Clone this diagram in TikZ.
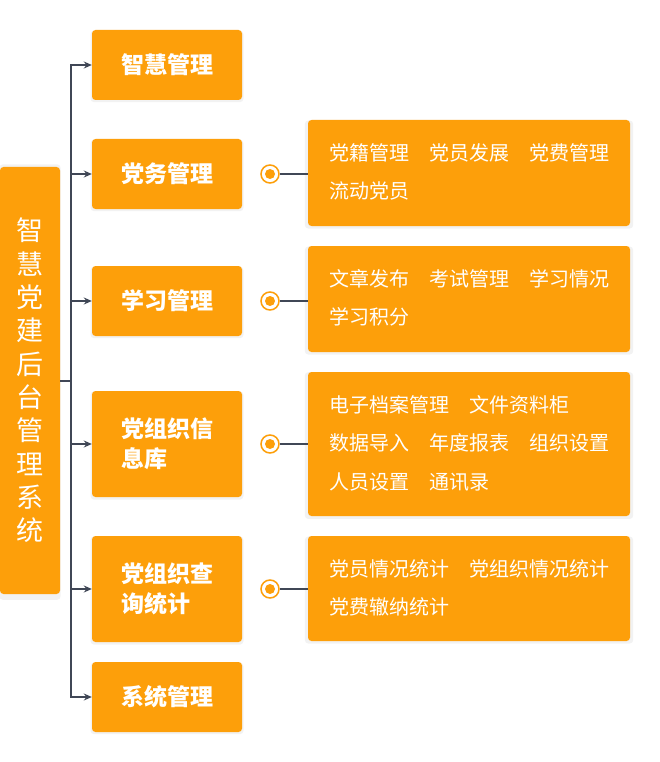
\documentclass[tikz,border=0pt]{standalone}
\usepackage{fontspec}
\setmainfont{Noto Sans CJK SC}
\usetikzlibrary{arrows.meta,shadows}
\definecolor{org}{RGB}{253,159,10}
\definecolor{lnk}{RGB}{64,71,86}
\begin{document}
\begin{tikzpicture}[x=1pt,y=-1pt,
  box/.style={fill=org, rounded corners=3.5pt, text=white, inner sep=0pt,
    general shadow={fill=black, opacity=0.05, shadow scale=1.02, shadow xshift=0pt, shadow yshift=-1.5pt}},
  midbox/.style={box, minimum width=150pt, align=left,
    font=\fontsize{23}{30}\selectfont\bfseries},
  rbox/.style={box, minimum width=322pt},
  rtext/.style={anchor=west, inner sep=0pt, text=white, align=left,
    font=\fontsize{20}{38.5}\selectfont},
  link/.style={draw=lnk, line width=2pt},
  arr/.style={link, -{Stealth[length=8pt,width=7pt]}},
  ring/.style={circle, draw=org, line width=1.5pt, fill=white, minimum size=18pt, inner sep=0pt},
  dot/.style={circle, fill=org, minimum size=10pt, inner sep=0pt}
]
\useasboundingbox[fill=white] (0,0) rectangle (660,762);

% left box
\node[box, minimum width=60pt, minimum height=427pt, align=center,
  font=\fontsize{27}{33.3}\selectfont] (L) at (30,380.5)
  {智\\慧\\党\\建\\后\\台\\管\\理\\系\\统};

% middle boxes
\node[midbox, minimum height=70pt]  (m1) at (167,65)  {智慧管理};
\node[midbox, minimum height=70pt]  (m2) at (167,174) {党务管理};
\node[midbox, minimum height=70pt]  (m3) at (167,301) {学习管理};
\node[midbox, minimum height=106pt] (m4) at (167,444) {党组织信\\息库};
\node[midbox, minimum height=106pt] (m5) at (167,589) {党组织查\\询统计};
\node[midbox, minimum height=70pt]  (m6) at (167,697) {系统管理};

% spine
\coordinate (s) at (71,380.5);
\draw[link] (L.east |- s) -- (s);
\draw[link, line cap=rect] (s |- m1) -- (s |- m6);
\foreach \m in {m1,m2,m3,m4,m5,m6}
  \draw[arr] (s |- \m) -- (\m.west);

% right boxes
\node[rbox, minimum height=106pt] (r1) at (469,173) {};
\node[rbox, minimum height=106pt] (r2) at (469,299) {};
\node[rbox, minimum height=144pt] (r3) at (469,444) {};
\node[rbox, minimum height=105pt] (r4) at (469,588.5) {};

\node[rtext] (t1) at (329,172) {党籍管理\hspace{20pt}党员发展\hspace{20pt}党费管理\\流动党员};
\node[rtext] (t2) at (329,298) {文章发布\hspace{20pt}考试管理\hspace{20pt}学习情况\\学习积分};
\node[rtext] (t3) at (329,443) {电子档案管理\hspace{20pt}文件资料柜\\数据导入\hspace{20pt}年度报表\hspace{20pt}组织设置\\人员设置\hspace{20pt}通讯录};
\node[rtext] (t4) at (329,588) {党员情况统计\hspace{20pt}党组织情况统计\\党费辙纳统计};

% circle markers and links
\foreach \m/\r/\c in {m2/r1/c2, m3/r2/c3, m4/r3/c4, m5/r4/c5}{
  \node[ring] (\c) at (270,0 |- \m) {};
  \node[dot] at (\c) {};
  \draw[link] (\c.east) -- (\c.east -| \r.west);
}
\end{tikzpicture}
\end{document}
